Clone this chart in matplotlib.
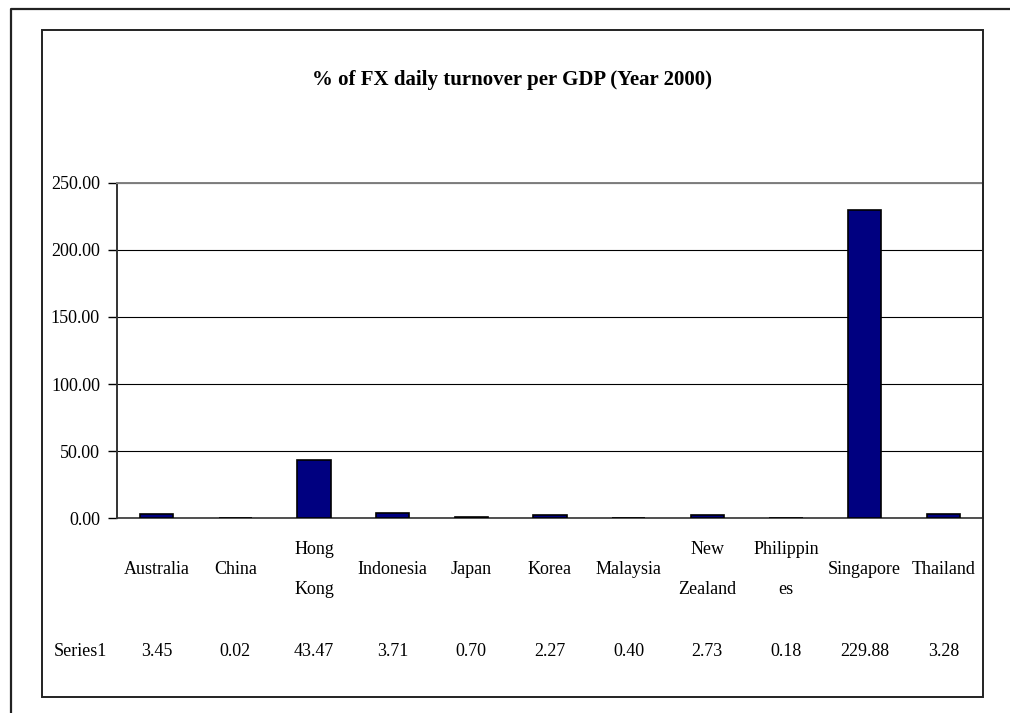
import numpy as np
import matplotlib
matplotlib.use("Agg")
import matplotlib.pyplot as plt
from matplotlib.lines import Line2D
from matplotlib.patches import Rectangle
from matplotlib.transforms import blended_transform_factory

plt.rcParams['font.family'] = ['Liberation Serif', 'DejaVu Serif']

countries = ["Australia", "China", "Hong\nKong", "Indonesia", "Japan", "Korea",
             "Malaysia", "New\nZealand", "Philippin\nes", "Singapore", "Thailand"]
turnover = [3.45, 0.02, 43.47, 3.71, 0.70, 2.27, 0.40, 2.73, 0.18, 229.88, 3.28]
series_name = "Series1"
yticks = [0, 50, 100, 150, 200, 250]

W, H = 1010, 713
FS = 13
fig = plt.figure(figsize=(W / 100, H / 100), dpi=100)

def fy(py):
    # pixel row from the top -> figure fraction
    return 1 - py / H

# outer frame (only top and left edge show)
fig.add_artist(Line2D([11 / W, 11 / W, 1.0], [0.0, fy(9), fy(9)],
                      transform=fig.transFigure, color="#222222", lw=1.6))
# chart area frame
fig.add_artist(Rectangle((41.5 / W, fy(696.7)), 941 / W, (696.7 - 30) / H,
                         transform=fig.transFigure, fill=False,
                         edgecolor="#222222", lw=1.4))

ax = fig.add_axes([117.3 / W, fy(518.3), (982.7 - 117.3) / W, (518.3 - 182.7) / H])
x = np.arange(len(countries))
ax.bar(x, turnover, width=0.42, color="#000080", edgecolor="black", linewidth=1.2, zorder=3)

ax.set_xlim(-0.5, len(countries) - 0.5)
ax.set_ylim(0, 250)
ax.set_yticks(yticks)
ax.set_yticklabels([f"{v:.2f}" for v in yticks], fontsize=FS)
ax.set_xticks([])
ax.tick_params(axis="y", direction="out", length=6.5, width=1, pad=6)
ax.yaxis.grid(True, color="black", lw=0.8)
ax.set_axisbelow(True)
ax.spines["left"].set_color("#333333")
ax.spines["left"].set_linewidth(1.4)
ax.spines["bottom"].set_color("#333333")
ax.spines["bottom"].set_linewidth(1.2)
ax.spines["top"].set_color("#808080")
ax.spines["top"].set_linewidth(1.4)
ax.spines["right"].set_color("#808080")
ax.spines["right"].set_linewidth(1.4)

fig.text(512 / W, fy(85.5), "% of FX daily turnover per GDP (Year 2000)",
         ha="center", va="baseline", fontsize=15, fontweight="bold")

# data table beneath the axis: category names, then the values row
tr = blended_transform_factory(ax.transData, fig.transFigure)
for i, (name, val) in enumerate(zip(countries, turnover)):
    lines = name.split("\n")
    if len(lines) == 1:
        ax.text(i, fy(570), lines[0], transform=tr, ha="center", va="center",
                fontsize=FS, clip_on=False)
    else:
        ax.text(i, fy(550), lines[0], transform=tr, ha="center", va="center",
                fontsize=FS, clip_on=False)
        ax.text(i, fy(589), lines[1], transform=tr, ha="center", va="center",
                fontsize=FS, clip_on=False)
    ax.text(i, fy(652), f"{val:.2f}", transform=tr, ha="center", va="center",
            fontsize=FS, clip_on=False)
fig.text(80 / W, fy(652), series_name, ha="center", va="center", fontsize=FS)

fig.savefig("out.png", dpi=100, facecolor="white")
